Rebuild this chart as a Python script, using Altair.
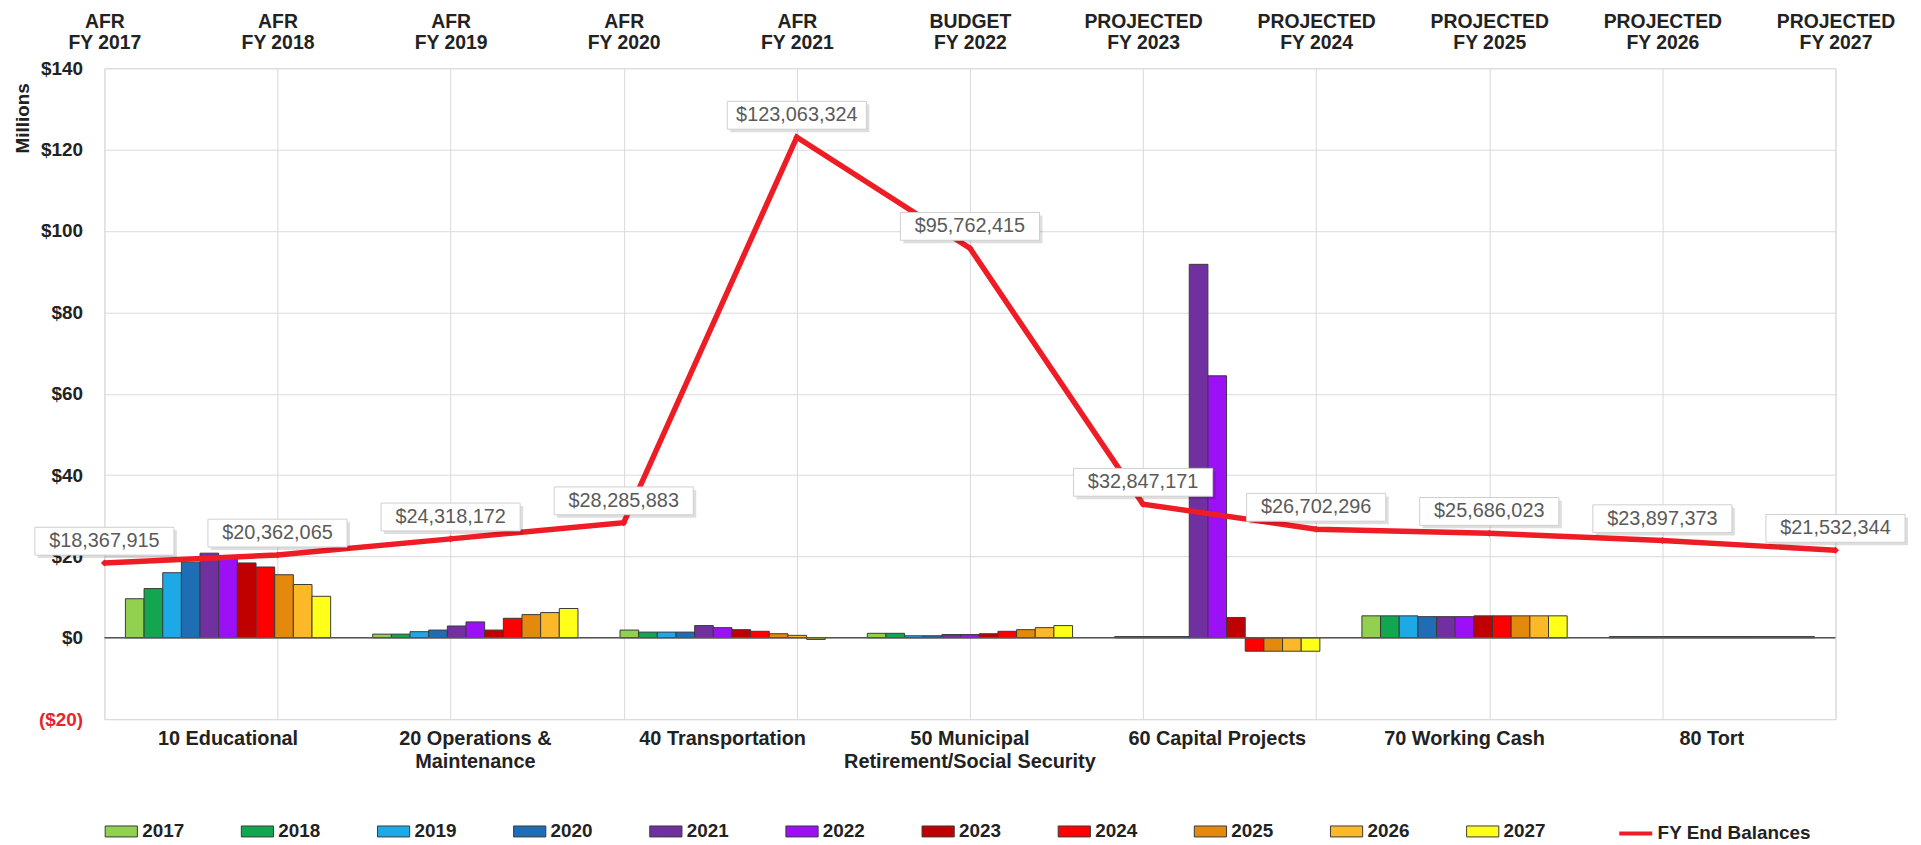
import altair as alt
import pandas as pd

# ---------------- data ----------------
funds = [
    "10 Educational",
    "20 Operations & Maintenance",
    "40 Transportation",
    "50 Municipal Retirement/Social Security",
    "60 Capital Projects",
    "70 Working Cash",
    "80 Tort",
]
years = ["2017", "2018", "2019", "2020", "2021", "2022",
         "2023", "2024", "2025", "2026", "2027"]

# fund balances by year, in millions of dollars
educational = [9.6, 12.1, 16.0, 18.6, 20.8, 20.2, 18.4, 17.4, 15.5, 13.1, 10.2]
operations = [0.9, 0.9, 1.5, 1.9, 2.9, 3.9, 1.9, 4.8, 5.7, 6.2, 7.2]
transportation = [1.9, 1.4, 1.4, 1.4, 3.0, 2.5, 2.0, 1.6, 1.0, 0.6, -0.4]
municipal = [1.1, 1.1, 0.5, 0.5, 0.8, 0.8, 1.0, 1.6, 2.0, 2.5, 3.0]
capital = [0.3, 0.3, 0.3, 0.3, 91.8, 64.4, 5.0, -3.3, -3.3, -3.3, -3.3]
working_cash = [5.4, 5.4, 5.4, 5.2, 5.2, 5.2, 5.4, 5.4, 5.4, 5.4, 5.4]
tort = [0.3, 0.3, 0.3, 0.3, 0.3, 0.3, 0.3, 0.3, 0.3, 0.3, 0.3]

periods = [
    "AFR FY 2017", "AFR FY 2018", "AFR FY 2019", "AFR FY 2020", "AFR FY 2021",
    "BUDGET FY 2022", "PROJECTED FY 2023", "PROJECTED FY 2024",
    "PROJECTED FY 2025", "PROJECTED FY 2026", "PROJECTED FY 2027",
]
fy_end_balances = [18367915, 20362065, 24318172, 28285883, 123063324,
                   95762415, 32847171, 26702296, 25686023, 23897373, 21532344]

year_colors = ["#92d050", "#12a651", "#1ca9e6", "#1f6db5", "#7030a0", "#9b10f5",
               "#c00000", "#ff0000", "#e38a0c", "#fbb829", "#ffff1a"]
line_color = "#ee1c25"

# ---------------- tables ----------------
series = [educational, operations, transportation, municipal, capital, working_cash, tort]
rows = []
for fund, vals in zip(funds, series):
    for yr, v in zip(years, vals):
        rows.append({"Fund": fund, "Year": yr, "Value": v})
bars_df = pd.DataFrame(rows)
line_df = pd.DataFrame({"Period": periods, "Balance": fy_end_balances})

FONT = "Liberation Sans"
W, H = 1742, 655

y_scale = alt.Scale(domain=[-20, 140], nice=False, zero=False)
y_axis = alt.Axis(
    values=list(range(-20, 141, 20)),
    labelExpr="datum.value < 0 ? '($' + abs(datum.value) + ')' : '$' + datum.value",
    labelColor={"condition": {"test": "datum.value < 0", "value": "#e3262b"}, "value": "#222222"},
    labelFont=FONT, labelFontSize=19, labelFontWeight="bold", labelPadding=22,
    ticks=False, domain=False, grid=True, gridColor="#dadada", gridWidth=1,
    title="Millions", titleFont=FONT, titleFontSize=19, titleFontWeight="bold",
    titleColor="#222222", titleAngle=-90, titleX=-82, titleY=50,
    titleAlign="center", titleBaseline="middle",
)
y_def = alt.Y("Value:Q", scale=y_scale, axis=y_axis)

fund_label_expr = (
    "datum.label == '20 Operations & Maintenance' ? ['20 Operations &', 'Maintenance'] : "
    "datum.label == '50 Municipal Retirement/Social Security' ? "
    "['50 Municipal', 'Retirement/Social Security'] : datum.label"
)

bars = alt.Chart(bars_df).mark_bar(stroke="#3a3a3a", strokeWidth=1).encode(
    x=alt.X(
        "Fund:N", sort=funds,
        scale=alt.Scale(paddingInner=0.17, paddingOuter=0.085),
        axis=alt.Axis(
            orient="bottom", title=None, labelAngle=0, labelExpr=fund_label_expr,
            labelFont=FONT, labelFontSize=20, labelFontWeight="bold",
            labelColor="#222222", labelPadding=9, labelLineHeight=24,
            labelLimit=400, labelOverlap=False, ticks=False, domain=False, grid=False,
        ),
    ),
    xOffset=alt.XOffset("Year:N", sort=years, scale=alt.Scale(paddingInner=0, paddingOuter=0)),
    y=y_def,
    color=alt.Color(
        "Year:N", sort=years,
        scale=alt.Scale(domain=years, range=year_colors),
        legend=alt.Legend(
            title=None, orient="none", legendX=0, legendY=751, direction="horizontal",
            symbolType="M-1,-0.34L1,-0.34L1,0.34L-1,0.34Z", symbolSize=1050,
            symbolStrokeColor="#3a3a3a", symbolStrokeWidth=1, symbolOpacity=1,
            labelFont=FONT, labelFontSize=19, labelFontWeight="bold",
            labelColor="#222222", labelOffset=4, columnPadding=54,
        ),
    ),
)

zero_rule = alt.Chart(pd.DataFrame({"Value": [0]})).mark_rule(
    color="#555555", strokeWidth=1.5
).encode(y=y_def)

x_line = alt.X(
    "Period:N", sort=periods,
    scale=alt.Scale(type="point", padding=0),
    axis=alt.Axis(
        orient="top", title=None, labelAngle=0,
        labelExpr="[split(datum.label, ' FY ')[0], 'FY ' + split(datum.label, ' FY ')[1]]",
        labelFont=FONT, labelFontSize=19.5, labelFontWeight="bold", labelColor="#222222",
        labelPadding=37, labelLineHeight=21, labelLimit=300, labelOverlap=False,
        ticks=False, domain=False, grid=True, gridColor="#dadada", gridWidth=1,
    ),
)
y_line = alt.Y("M:Q", scale=y_scale, axis=y_axis)

base = alt.Chart(line_df).transform_calculate(
    M="datum.Balance / 1000000",
    Label="'$' + format(datum.Balance, ',')",
    Series="'FY End Balances'",
)

line = base.mark_line(strokeWidth=5.5).encode(
    x=x_line, y=y_line,
    stroke=alt.Stroke(
        "Series:N",
        scale=alt.Scale(domain=["FY End Balances"], range=[line_color]),
        legend=alt.Legend(
            title=None, orient="none", legendX=1522, legendY=751,
            symbolType="stroke", symbolStrokeWidth=4, symbolSize=1100,
            labelFont=FONT, labelFontSize=19, labelFontWeight="bold",
            labelColor="#222222", labelOffset=3,
        ),
    ),
)
points = base.mark_point(filled=True, shape="diamond", size=50, color=line_color, opacity=1).encode(
    x=x_line, y=y_line
)
shadow = base.mark_rect(
    color="#000000", opacity=0.13, xOffset=-67, x2Offset=73, yOffset=-33, y2Offset=-5
).encode(x=x_line, x2="Period:N", y=y_line, y2="M:Q")
box = base.mark_rect(
    fill="white", stroke="#cfcfcf", strokeWidth=1,
    xOffset=-70, x2Offset=70, yOffset=-36, y2Offset=-8,
).encode(x=x_line, x2="Period:N", y=y_line, y2="M:Q")
text = base.mark_text(
    font=FONT, fontSize=20, color="#5a5a5a", baseline="middle", align="center", yOffset=-22
).encode(x=x_line, y=y_line, text="Label:N")

line_group = alt.layer(line, points, shadow, box, text)

chart = alt.layer(bars, zero_rule, line_group).resolve_scale(
    x="independent", color="independent"
).properties(
    width=W, height=H,
    padding={"left": 6, "top": 1, "right": 5, "bottom": 0},
).configure_view(
    stroke="#a9a9a9", strokeWidth=3
).configure(background="white")

chart.save("out.html", embed_options={"renderer": "svg", "actions": False})
